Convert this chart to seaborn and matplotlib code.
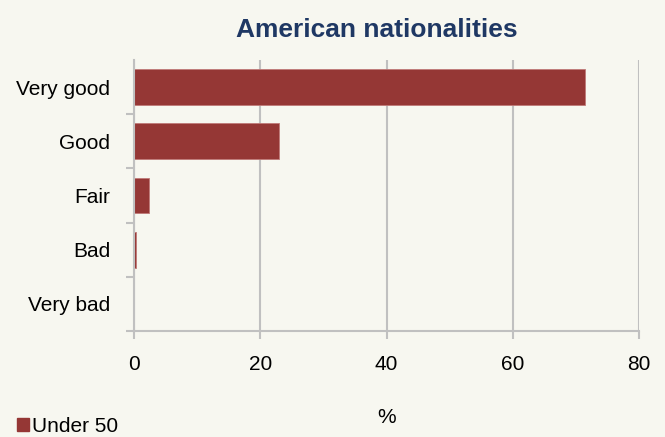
"""
American nationalities - horizontal bar chart
"""

import pandas as pd
import matplotlib.pyplot as plt
import seaborn as sns
from matplotlib.patches import Patch

# Data
categories = ["Very good", "Good", "Fair", "Bad", "Very bad"]
under_50 = [71.5, 22.9, 2.4, 0.3, 0.0]
series_name = "Under 50"
x_ticks = [0, 20, 40, 60, 80]

BG = "#f7f7f0"
BAR = "#953735"
GRID = "#c0c0c0"

df = pd.DataFrame({"Rating": categories, "Percent": under_50, "Group": series_name})

sns.set_style("white")
plt.rcParams["font.family"] = ["Liberation Sans", "DejaVu Sans"]
plt.rcParams["text.color"] = "black"
plt.rcParams["xtick.color"] = "black"
plt.rcParams["ytick.color"] = "black"
plt.rcParams["axes.labelcolor"] = "black"

fig = plt.figure(figsize=(6.65, 4.37), dpi=100, facecolor=BG)
ax = fig.add_axes([0.2015, 0.2426, 0.7595, 0.6201])
ax.set_facecolor(BG)

sns.barplot(
    data=df,
    x="Percent",
    y="Rating",
    order=categories,
    color=BAR,
    saturation=1,
    width=0.66,
    edgecolor="#c07a78",
    linewidth=0.6,
    ax=ax,
)

ax.set_xlim(0, 80)
ax.set_ylim(4.5, -0.5)
ax.set_xticks(x_ticks)
ax.set_xticklabels([str(t) for t in x_ticks], fontsize=15)
ax.set_yticks(range(len(categories)))
ax.set_yticklabels(categories, fontsize=15)
ax.set_xlabel("%", fontsize=15, labelpad=25)
ax.set_ylabel("")

# vertical gridlines
ax.grid(axis="x", color=GRID, linewidth=1.5)
ax.set_axisbelow(True)

for side in ["top", "right"]:
    ax.spines[side].set_visible(False)
ax.spines["left"].set_color(GRID)
ax.spines["bottom"].set_color(GRID)
ax.spines["left"].set_linewidth(1.5)
ax.spines["bottom"].set_linewidth(1.5)

# x ticks below axis, y ticks at category boundaries
ax.tick_params(axis="x", length=6, width=1.5, color=GRID, labelcolor="black", pad=11, direction="out", bottom=True)
ax.tick_params(axis="y", length=0, pad=17, labelcolor="black")
ax.set_yticks([i + 0.5 for i in range(len(categories))], minor=True)
ax.tick_params(axis="y", which="minor", length=6, width=1.5, color=GRID, direction="out", left=True)

fig.text(377 / 665, 1 - 30 / 437, "American nationalities", ha="center", va="center",
         fontsize=19, fontweight="bold", color="#1f3864")

leg = fig.legend(
    handles=[Patch(facecolor=BAR, edgecolor=BAR, label=series_name)],
    loc="lower left",
    bbox_to_anchor=(-0.003, -0.041),
    frameon=False,
    fontsize=15,
    handlelength=0.6,
    handleheight=0.6,
    handletextpad=0.15,
)

plt.savefig("out.png", dpi=100, facecolor=BG)
